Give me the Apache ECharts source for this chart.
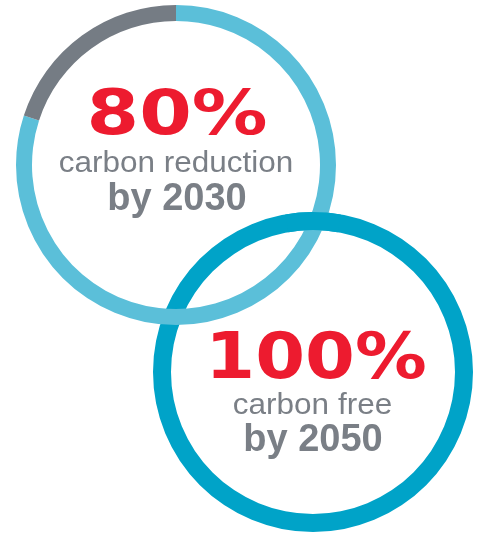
<!DOCTYPE html>
<html>
<head>
<meta charset="utf-8">
<script src="https://cdn.jsdelivr.net/npm/echarts@6/dist/echarts.min.js"></script>
<style>
html,body{margin:0;padding:0;background:#fff;}
#c{width:481px;height:533px;}
</style>
</head>
<body>
<div id="c"></div>
<script>
// Data
const ring1Names = ['Reduced', 'Remaining'];
const ring1Values = [80, 20];
const ring2Names = ['Carbon free'];
const ring2Values = [100];
const headlines = ['80%', '100%'];
const captions = ['carbon reduction', 'carbon free'];
const years = ['by 2030', 'by 2050'];

const LIGHT = '#5BBFD9', GREY = '#757C84', DARK = '#00A3C8', RED = '#ED1B2F', TXT = '#7A7F86';
const C1 = [176, 165], C2 = [313, 372];

const chart = echarts.init(document.getElementById('c'), null, {renderer: 'canvas'});

function txt(s, x, y, size, weight, family, color, sx) {
  return {
    type: 'text', x: x, y: y, scaleX: sx, scaleY: 1, z: 100,
    style: {
      text: s, fill: color, align: 'center', verticalAlign: 'middle',
      font: weight + ' ' + size + 'px ' + family
    }
  };
}

chart.setOption({
  animation: false,
  series: [
    {
      type: 'pie', silent: true, z: 1, center: C2, radius: [142, 160],
      label: {show: false}, labelLine: {show: false},
      itemStyle: {borderWidth: 0},
      data: ring2Values.map((v, i) => ({name: ring2Names[i], value: v, itemStyle: {color: DARK}}))
    },
    {
      type: 'pie', silent: true, z: 2, center: C1, radius: [144, 160],
      startAngle: 90, clockwise: true,
      label: {show: false}, labelLine: {show: false},
      itemStyle: {borderWidth: 0},
      data: ring1Values.map((v, i) => ({name: ring1Names[i], value: v, itemStyle: {color: i === 0 ? LIGHT : GREY}}))
    },
    {
      // short arc of the second ring laid back on top at the upper crossing (interlock)
      type: 'pie', silent: true, z: 3, center: C2, radius: [142, 160],
      startAngle: 100, clockwise: true,
      label: {show: false}, labelLine: {show: false},
      itemStyle: {borderWidth: 0},
      data: [
        {name: 'overlap', value: 20, itemStyle: {color: DARK}},
        {name: 'rest', value: 340, itemStyle: {color: 'rgba(0,0,0,0)'}}
      ]
    }
  ],
  graphic: [
    txt(headlines[0], 177, 118, 63, 'bold', '"DejaVu Sans"', RED, 1.2),
    txt(captions[0], 176, 164, 30, 'normal', '"Liberation Sans"', TXT, 1.05),
    txt(years[0], 177, 200, 38, 'bold', '"Liberation Sans"', TXT, 1.0),
    txt(headlines[1], 316, 361, 64, 'bold', '"DejaVu Sans"', RED, 1.12),
    txt(captions[1], 312.5, 406, 30, 'normal', '"Liberation Sans"', TXT, 1.05),
    txt(years[1], 313, 441, 38, 'bold', '"Liberation Sans"', TXT, 1.0)
  ]
});
</script>
</body>
</html>
